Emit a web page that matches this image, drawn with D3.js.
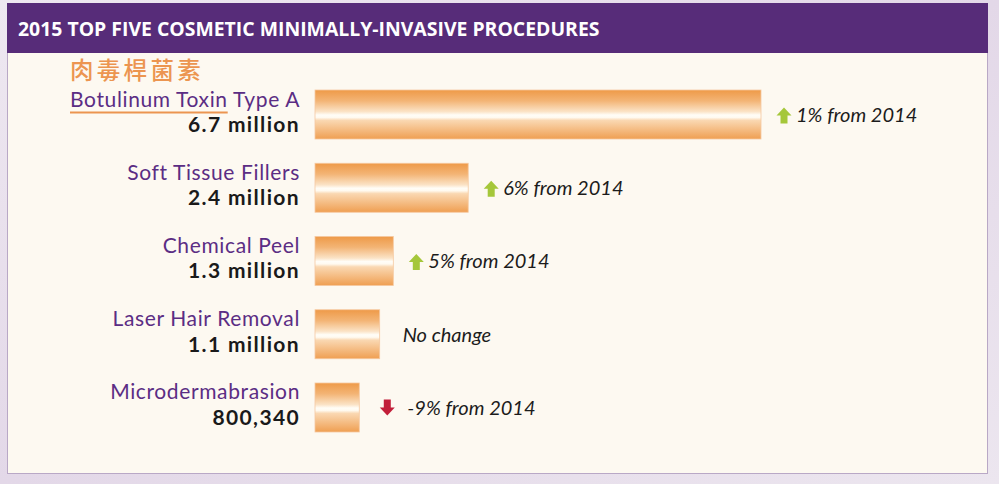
<!DOCTYPE html>
<html><head><meta charset="utf-8">
<script src="https://cdn.jsdelivr.net/npm/d3@7"></script>
<style>
html,body{margin:0;padding:0;background:#e8dfec;}
svg{display:block;}
</style></head>
<body>
<svg id="chart" width="999" height="484"></svg>
<script>
const title = "2015 TOP FIVE COSMETIC MINIMALLY-INVASIVE PROCEDURES";
const chineseNote = "肉毒桿菌素";
const categories = ["Botulinum Toxin Type A","Soft Tissue Fillers","Chemical Peel","Laser Hair Removal","Microdermabrasion"];
const values = [6.7, 2.4, 1.3, 1.1, 0.80034];
const valueLabels = ["6.7 million","2.4 million","1.3 million","1.1 million","800,340"];
const changeDir = ["up","up","up","none","down"];
const changeLabels = ["1% from 2014","6% from 2014","5% from 2014","No change","-9% from 2014"];

const svg = d3.select("#chart");
const W = 999, H = 484;
const defs = svg.append("defs");

// background lavender
const bg = defs.append("linearGradient").attr("id","bgG").attr("x1","0").attr("y1","0").attr("x2","1").attr("y2","1");
bg.append("stop").attr("offset","0%").attr("stop-color","#eee8f1");
bg.append("stop").attr("offset","50%").attr("stop-color","#e3d8e8");
bg.append("stop").attr("offset","100%").attr("stop-color","#ece6ef");
svg.append("rect").attr("width",W).attr("height",H).attr("fill","url(#bgG)");

// bar gradient
const bgr = defs.append("linearGradient").attr("id","barG").attr("x1","0").attr("y1","0").attr("x2","0").attr("y2","1");
[["0%","#ee9a48"],["22%","#f3b475"],["44%","#fbe3c6"],["51%","#fffdf7"],["56%","#fffaf0"],["62%","#fad8b2"],["100%","#ef9f52"]]
  .forEach(s=>bgr.append("stop").attr("offset",s[0]).attr("stop-color",s[1]));

// panel
svg.append("rect").attr("x",7.5).attr("y",3.5).attr("width",980).attr("height",470)
  .attr("fill","#fdf9f1").attr("stroke","#b9a8c6").attr("stroke-width",1);
svg.append("rect").attr("x",7).attr("y",3).attr("width",981).attr("height",50).attr("fill","#572c79");

const tt = svg.append("text").attr("x",18).attr("y",36).attr("fill","#ffffff")
  .attr("font-family","'Open Sans', sans-serif").attr("font-weight","bold").attr("font-size",17)
  .text(title);
(function fit(){const w=tt.node().getComputedTextLength(); tt.attr("font-size",17*582/w);})();

const band = d3.scaleBand().domain(categories).range([90, 432]).paddingInner(0.331).paddingOuter(0);
const x = d3.scaleLinear().domain([0.15, 6.7]).range([315, 761]);

// chinese note
svg.append("text").attr("x",70).attr("y",79).attr("fill","#ec9550")
  .attr("font-family","'Noto Sans CJK TC', 'Noto Sans CJK SC', sans-serif").attr("font-weight","500")
  .attr("font-size",23.5).attr("letter-spacing",3.3).text(chineseNote);

const rows = svg.append("g").selectAll("g").data(categories).join("g")
  .attr("transform", d=>`translate(0,${band(d)})`);
const bh = band.bandwidth();

rows.append("rect").attr("x",x.range()[0]).attr("y",0)
  .attr("width",(d,i)=>x(values[i])-x.range()[0]).attr("height",bh)
  .attr("fill","url(#barG)").attr("stroke","#f6c9a0").attr("stroke-width",0.8);

const catText = rows.append("text").attr("x",300).attr("y",16.5).attr("text-anchor","end")
  .attr("fill","#5b2d84").attr("font-family","Lato, sans-serif").attr("font-size",21)
  .text(d=>d);
// widen letter spacing so first label spans ~230px like the reference
(function(){
  const n = catText.nodes()[0];
  const w = n.getComputedTextLength();
  const ls = Math.max(0, (230 - w) / (categories[0].length));
  catText.attr("letter-spacing", ls);
})();
const valText = rows.append("text").attr("x",300).attr("y",42).attr("text-anchor","end")
  .attr("fill","#1a1a1a").attr("font-family","Lato, sans-serif").attr("font-weight","bold").attr("font-size",21)
  .text((d,i)=>valueLabels[i]);
(function(){
  const n = valText.nodes()[0];
  const w = n.getComputedTextLength();
  const ls = Math.max(0, (112 - w) / (valueLabels[0].length));
  valText.attr("letter-spacing", ls);
})();

// underline under "Botulinum Toxin"
(function(){
  const n = catText.nodes()[0];
  const start = n.getStartPositionOfChar(0).x;
  const end = n.getEndPositionOfChar("Botulinum Toxin".length-1).x;
  svg.append("line").attr("x1",start).attr("x2",end)
    .attr("y1",band(categories[0])+22.5).attr("y2",band(categories[0])+22.5)
    .attr("stroke","#ec9550").attr("stroke-width",2.2);
})();

// change indicators
const upPath = "M0,-8 L7.5,0 L3.5,0 L3.5,8 L-3.5,8 L-3.5,0 L-7.5,0 Z";
const downPath = "M0,8 L7.5,0 L3.5,0 L3.5,-8 L-3.5,-8 L-3.5,0 L-7.5,0 Z";
rows.each(function(d,i){
  const g = d3.select(this);
  const xe = x(values[i]);
  const cy = bh/2 + 1;
  let tx;
  if (changeDir[i]==="up") {
    g.append("path").attr("d",upPath).attr("transform",`translate(${xe+23},${cy})`).attr("fill","#a5c73a");
    tx = xe + 35;
  } else if (changeDir[i]==="down") {
    g.append("path").attr("d",downPath).attr("transform",`translate(${xe+28},${cy-1})`).attr("fill","#c21f3a");
    tx = xe + 48;
  } else {
    tx = xe + 23;
  }
  g.append("text").attr("x",tx).attr("y",cy+6.5).attr("fill","#1c1c1c")
    .attr("font-family","Lato, sans-serif").attr("font-style","italic").attr("font-size",20)
    .text(changeLabels[i]);
});
</script>
</body></html>
